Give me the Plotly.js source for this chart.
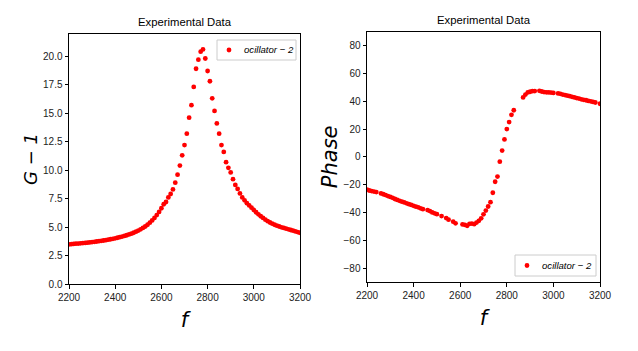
<!DOCTYPE html>
<html>
<head>
<meta charset="utf-8">
<script src="https://cdn.plot.ly/plotly-3.0.1.min.js"></script>
<style>html,body{margin:0;padding:0;background:#fff;}#chart{width:638px;height:351px;}</style>
</head>
<body>
<div id="chart"></div>
<script>
// ---- data ----
const seriesName = "ocillator − 2";
const chartTitle = "Experimental Data";

const ampFreq = [2200,2210,2220,2230,2240,2250,2260,2270,2280,2290,
  2300,2310,2320,2330,2340,2350,2360,2370,2380,2390,
  2400,2410,2420,2430,2440,2450,2460,2470,2480,2490,
  2500,2510,2520,2530,2540,2550,2560,2570,2580,2590,
  2600,2610,2620,2630,2640,2650,2660,2670,2680,2690,
  2700,2710,2720,2730,2740,2750,2760,2770,2780,2790,
  2800,2810,2820,2830,2840,2850,2860,2870,2880,2890,
  2900,2910,2920,2930,2940,2950,2960,2970,2980,2990,
  3000,3010,3020,3030,3040,3050,3060,3070,3080,3090,
  3100,3110,3120,3130,3140,3150,3160,3170,3180,3190,3200];
const ampG = [3.48,3.50,3.52,3.54,3.55,3.57,3.59,3.61,3.63,3.65,
  3.68,3.70,3.73,3.76,3.79,3.82,3.85,3.89,3.93,3.97,
  4.01,4.06,4.11,4.16,4.22,4.28,4.35,4.42,4.50,4.59,
  4.69,4.80,4.92,5.05,5.20,5.38,5.58,5.80,6.05,6.33,
  6.65,7.00,7.20,7.60,7.90,8.30,8.90,9.60,10.4,11.3,
  12.2,13.2,14.6,15.7,17.3,18.9,19.7,20.4,20.6,19.8,
  18.7,17.8,16.3,15.2,14.1,13.2,12.2,11.6,10.7,10.2,
  9.8,9.2,8.7,8.35,7.95,7.6,7.35,7.1,6.9,6.7,
  6.5,6.3,6.12,5.95,5.8,5.65,5.52,5.4,5.3,5.2,
  5.12,5.05,4.98,4.92,4.86,4.8,4.74,4.68,4.62,4.56,4.5];

const phaseFreq = [2200,2210,2220,2230,2240,2260,2270,2280,2290,
  2300,2310,2320,2330,2340,2350,2360,2370,2380,2390,
  2400,2410,2420,2430,2440,2460,2470,2480,2490,
  2500,2520,2540,2550,2570,2580,2610,2620,2630,2640,2650,2660,2670,2680,2690,
  2700,2710,2720,2730,2740,2750,2760,2770,2780,2790,
  2800,2810,2820,2830,2870,2880,2890,
  2900,2910,2920,2940,2950,2960,2970,2980,2990,
  3000,3020,3030,3040,3050,3060,3070,3080,3090,
  3100,3110,3120,3130,3140,3150,3160,3170,3180,3200];
const phaseVal = [-23.5,-24.2,-24.6,-25.0,-25.3,-26.3,-26.9,-27.5,-28.2,
  -28.8,-29.5,-30.3,-31.0,-31.6,-32.2,-32.8,-33.4,-34.0,-34.6,
  -35.2,-35.8,-36.3,-37.0,-37.6,-38.3,-39.0,-40.0,-40.6,
  -41.2,-42.6,-44.0,-45.2,-46.6,-47.8,-48.6,-48.9,-49.6,-48.2,-48.0,-48.4,-47.3,-46.0,-44.2,
  -41.3,-38.6,-35.7,-32.6,-25.8,-17.9,-14.2,-3.5,4.5,12.5,
  20.0,25.0,30.2,33.5,42.7,44.8,46.3,
  46.8,47.2,47.3,47.5,47.0,46.6,46.4,46.3,46.2,
  46.0,45.6,45.3,44.8,44.4,44.0,43.6,43.2,42.7,
  42.3,41.9,41.4,41.0,40.7,40.2,39.9,39.5,39.1,38.2];

const xTicks = [2200,2400,2600,2800,3000,3200];
const gTicks = [0,2.5,5,7.5,10,12.5,15,17.5,20];
const gTickText = ["0.0","2.5","5.0","7.5","10.0","12.5","15.0","17.5","20.0"];
const phaseTicks = [-80,-60,-40,-20,0,20,40,60,80];

// ---- styling ----
const W = 638, H = 351;
const px = v => v / W, py = v => 1 - v / H;
const sans = "Liberation Sans, Arial, sans-serif";
const tickFont = {family: sans, size: 10, color: "#222"};
const axBase = {
  showgrid: false, zeroline: false, showline: true, mirror: true,
  linecolor: "#000", linewidth: 1, ticks: "outside", ticklen: 3.5, tickwidth: 1,
  tickcolor: "#000", tickfont: tickFont, automargin: false
};
const mk = {color: "red", size: 4.8};

const traces = [
  {type: "scatter", mode: "markers", x: ampFreq, y: ampG, name: seriesName,
   marker: mk, xaxis: "x", yaxis: "y", showlegend: false},
  {type: "scatter", mode: "markers", x: phaseFreq, y: phaseVal, name: seriesName,
   marker: mk, xaxis: "x2", yaxis: "y2", showlegend: false}
];

const titleFont = {family: sans, size: 11.3, color: "#000"};
const legFont = {family: sans, size: 9.6, color: "#000"};

// legend boxes (matplotlib-style) in pixel coordinates of the figure
function legendItems(x0, y0, x1, y1) {
  const cy = (y0 + y1) / 2;
  return {
    shapes: [
      {type: "rect", xref: "paper", yref: "paper", x0: px(x0), x1: px(x1), y0: py(y1), y1: py(y0),
       line: {color: "#cccccc", width: 1}, fillcolor: "rgba(255,255,255,0.85)", layer: "above"},
      {type: "circle", xref: "paper", yref: "paper", x0: px(x0 + 9.6), x1: px(x0 + 14.4), y0: py(cy + 2.4), y1: py(cy - 2.4),
       line: {width: 0}, fillcolor: "red", layer: "above"}
    ],
    ann: {text: "<i>" + seriesName + "</i>", xref: "paper", yref: "paper", x: px(x0 + 25), y: py(cy),
      xanchor: "left", yanchor: "middle", showarrow: false, font: legFont}
  };
}
const leg1 = legendItems(217, 40, 296, 60);
const leg2 = legendItems(515, 255, 596, 276);

const layout = {
  width: W, height: H,
  margin: {l: 0, r: 0, t: 0, b: 0},
  paper_bgcolor: "#fff", plot_bgcolor: "#fff",
  showlegend: false,
  xaxis: Object.assign({}, axBase, {domain: [px(69), px(300)], range: [2200, 3200], tickvals: xTicks, anchor: "y",
    title: {text: "<i>f</i>", font: {family: "DejaVu Sans, sans-serif", size: 21, color: "#000"}, standoff: 10}}),
  yaxis: Object.assign({}, axBase, {domain: [py(284), py(34)], range: [0, 21.95], tickvals: gTicks, ticktext: gTickText, anchor: "x",
    title: {text: "<i>G − 1</i>", font: {family: "DejaVu Sans, sans-serif", size: 18, color: "#000"}, standoff: 0}}),
  xaxis2: Object.assign({}, axBase, {domain: [px(367), px(600)], range: [2200, 3200], tickvals: xTicks, anchor: "y2",
    title: {text: "<i>f</i>", font: {family: "DejaVu Sans, sans-serif", size: 21, color: "#000"}, standoff: 10}}),
  yaxis2: Object.assign({}, axBase, {domain: [py(282), py(31.7)], range: [-90, 90], tickvals: phaseTicks, anchor: "x2",
    title: {text: "<i>Phase</i>", font: {family: "DejaVu Sans, sans-serif", size: 21, color: "#000"}, standoff: 0}}),
  shapes: leg1.shapes.concat(leg2.shapes),
  annotations: [
    {text: chartTitle, xref: "paper", yref: "paper", x: px((69 + 300) / 2), y: py(22), xanchor: "center", yanchor: "middle",
     showarrow: false, font: titleFont},
    {text: chartTitle, xref: "paper", yref: "paper", x: px((367 + 600) / 2), y: py(20.5), xanchor: "center", yanchor: "middle",
     showarrow: false, font: titleFont},
    leg1.ann, leg2.ann
  ]
};

Plotly.newPlot("chart", traces, layout, {staticPlot: true, displayModeBar: false});
</script>
</body>
</html>
